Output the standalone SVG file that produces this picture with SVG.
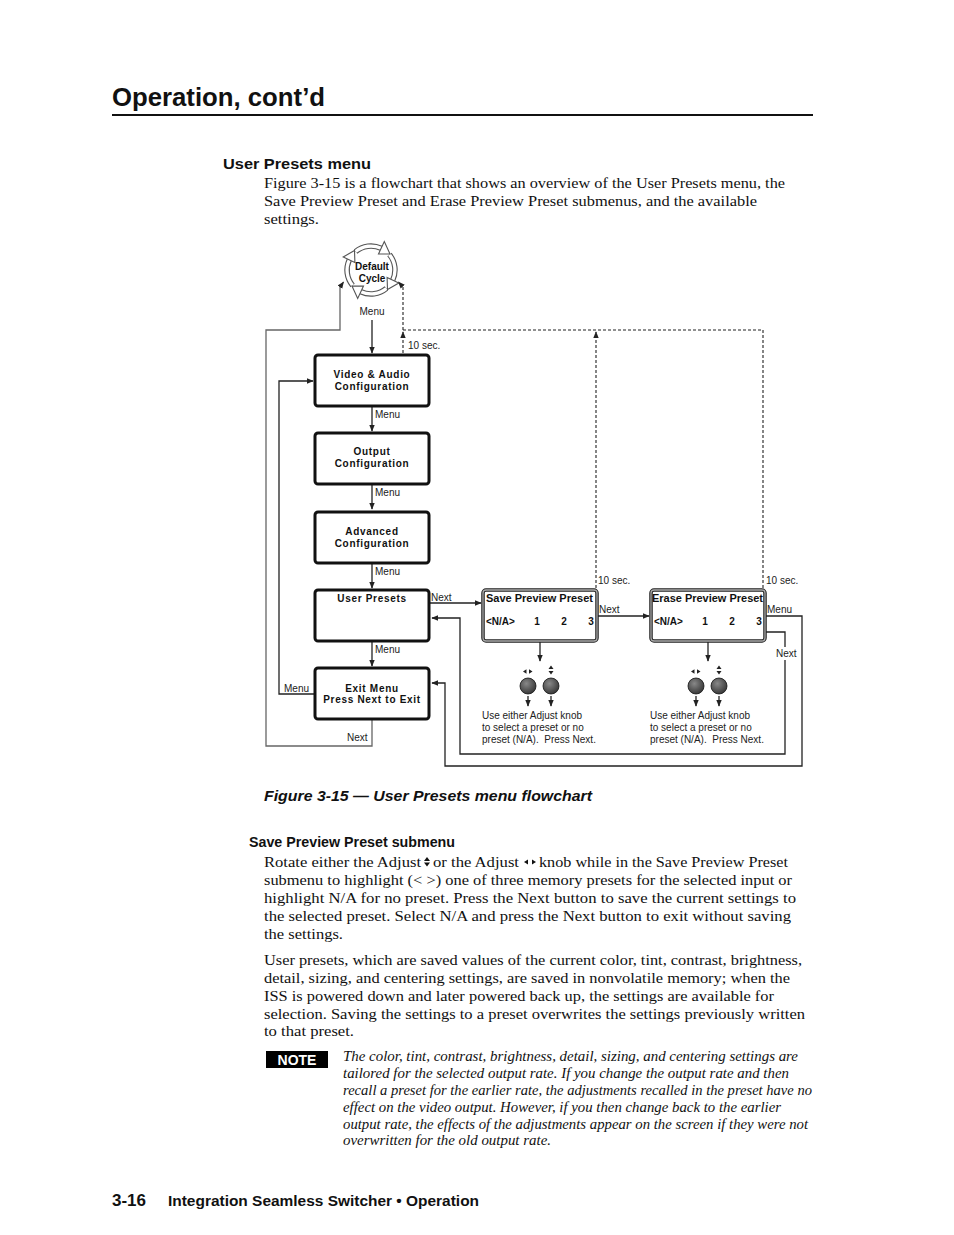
<svg xmlns="http://www.w3.org/2000/svg" width="954" height="1235" viewBox="0 0 954 1235">
<defs>
<style>
.h{font-family:"Liberation Sans",Arial,sans-serif;font-weight:bold;fill:#111}
.b{font-family:"Liberation Serif","Times New Roman",serif;font-size:15.5px;fill:#111}
.n{font-family:"Liberation Serif","Times New Roman",serif;font-style:italic;font-size:14.5px;fill:#111}
.lbl{font-family:"Liberation Sans",Arial,sans-serif;font-size:10px;fill:#222}
.bx{font-family:"Liberation Sans",Arial,sans-serif;font-weight:bold;font-size:10px;fill:#111;text-anchor:middle;letter-spacing:0.7px}
.lcd{font-family:"Liberation Sans",Arial,sans-serif;font-weight:bold;font-size:10px;fill:#111}
.box{fill:#fff;stroke:#111;stroke-width:3}
.ln{fill:none;stroke:#222;stroke-width:1.3}
.ds{fill:none;stroke:#222;stroke-width:1.1;stroke-dasharray:3 2}
.arc{fill:none;stroke:#555;stroke-width:5.5}
.arcw{fill:none;stroke:#fff;stroke-width:3.3}
.ah{fill:#fff;stroke:#555;stroke-width:1.1}
</style>
<marker id="arr" viewBox="0 0 10 10" refX="9" refY="5" markerWidth="7" markerHeight="7" markerUnits="userSpaceOnUse" orient="auto">
<path d="M0,1 L10,5 L0,9 Z" fill="#222"/>
</marker>
<radialGradient id="knob" cx="0.4" cy="0.35" r="0.7">
<stop offset="0" stop-color="#888"/>
<stop offset="1" stop-color="#333"/>
</radialGradient>
</defs>
<rect width="954" height="1235" fill="#fff"/>

<!-- header -->
<text class="h" x="112" y="106" font-size="25" textLength="213" lengthAdjust="spacingAndGlyphs">Operation, cont’d</text>
<rect x="112" y="114" width="701" height="2" fill="#111"/>
<text class="h" x="223" y="169" font-size="15" textLength="148" lengthAdjust="spacingAndGlyphs">User Presets menu</text>
<text class="b" x="264" y="188" textLength="521" lengthAdjust="spacingAndGlyphs">Figure 3-15 is a flowchart that shows an overview of the User Presets menu, the</text>
<text class="b" x="264" y="206" textLength="493" lengthAdjust="spacingAndGlyphs">Save Preview Preset and Erase Preview Preset submenus, and the available</text>
<text class="b" x="264" y="224" textLength="55" lengthAdjust="spacingAndGlyphs">settings.</text>

<!-- default cycle -->
<g id="default-cycle">
<path class="arc" d="M355.6,251.6 A24,24 0 0 1 381.1,248.3"/>
<path class="arc" d="M389.4,254.6 A24,24 0 0 1 392.7,280.1"/>
<path class="arc" d="M386.4,288.4 A24,24 0 0 1 360.9,291.7"/>
<path class="arc" d="M352.6,285.4 A24,24 0 0 1 349.3,259.9"/>
<path class="arcw" d="M355.6,251.6 A24,24 0 0 1 381.1,248.3"/>
<path class="arcw" d="M389.4,254.6 A24,24 0 0 1 392.7,280.1"/>
<path class="arcw" d="M386.4,288.4 A24,24 0 0 1 360.9,291.7"/>
<path class="arcw" d="M352.6,285.4 A24,24 0 0 1 349.3,259.9"/>
<polygon class="ah" points="378.5,253.9 384.3,241.6 390.0,254.0"/>
<polygon class="ah" points="387.1,277.5 398.8,283.0 387.5,289.5"/>
<polygon class="ah" points="363.5,286.1 357.7,298.4 352.0,286.0"/>
<polygon class="ah" points="354.9,262.5 343.2,257.0 354.5,250.5"/>
<text class="lcd" x="372" y="270" font-size="9" text-anchor="middle">Default</text>
<text class="lcd" x="372" y="282" font-size="9" text-anchor="middle">Cycle</text>
</g>

<!-- connectors -->
<g id="connectors">
<line class="ln" x1="372" y1="320" x2="372" y2="353" marker-end="url(#arr)"/>
<text class="lbl" x="372" y="315" text-anchor="middle">Menu</text>
<line class="ln" x1="372" y1="406" x2="372" y2="431" marker-end="url(#arr)"/>
<text class="lbl" x="375" y="418">Menu</text>
<line class="ln" x1="372" y1="485" x2="372" y2="509" marker-end="url(#arr)"/>
<text class="lbl" x="375" y="496">Menu</text>
<line class="ln" x1="372" y1="563" x2="372" y2="588" marker-end="url(#arr)"/>
<text class="lbl" x="375" y="575">Menu</text>
<line class="ln" x1="372" y1="642" x2="372" y2="666" marker-end="url(#arr)"/>
<text class="lbl" x="375" y="653">Menu</text>

<!-- outer Next loop back to default cycle -->
<path fill="none" stroke="#666" stroke-width="1.3" d="M372,720 V746 H266 V330 H340 V287 L343.5,282" marker-end="url(#arr)"/>
<text class="lbl" x="347" y="741">Next</text>

<!-- inner Menu loop exit -> video -->
<path class="ln" d="M314,694 H279 V381 H313" marker-end="url(#arr)"/>
<text class="lbl" x="284" y="692">Menu</text>

<!-- dashed timeouts -->
<line class="ds" x1="403" y1="353" x2="403" y2="332" marker-end="url(#arr)"/>
<path class="ds" d="M403,330 V287 L398.5,282" marker-end="url(#arr)"/>
<line class="ds" x1="596" y1="588" x2="596" y2="332" marker-end="url(#arr)"/>
<path class="ds" d="M763,588 V330 H403"/>
<text class="lbl" x="408" y="349">10 sec.</text>
<text class="lbl" x="598" y="584">10 sec.</text>
<text class="lbl" x="766" y="584">10 sec.</text>

<!-- User Presets -> Save -->
<line class="ln" x1="430" y1="603" x2="481" y2="603" marker-end="url(#arr)"/>
<text class="lbl" x="431" y="601">Next</text>
<!-- Save -> Erase -->
<line class="ln" x1="598" y1="616" x2="649" y2="616" marker-end="url(#arr)"/>
<text class="lbl" x="599" y="613">Next</text>
<!-- Erase Next -> User Presets -->
<path class="ln" d="M766,632 H785 V754 H460 V618 H432" marker-end="url(#arr)"/>
<rect x="775" y="647" width="23" height="13" fill="#fff"/>
<text class="lbl" x="776" y="657">Next</text>
<!-- Erase Menu -> Exit -->
<path class="ln" d="M766,616 H802 V766 H445 V683 H432" marker-end="url(#arr)"/>
<text class="lbl" x="767" y="613">Menu</text>

<!-- knob arrows -->
<line class="ln" x1="540" y1="642" x2="540" y2="661" marker-end="url(#arr)"/>
<line class="ln" x1="708" y1="642" x2="708" y2="661" marker-end="url(#arr)"/>
<line class="ln" x1="528" y1="696" x2="528" y2="706" marker-end="url(#arr)"/>
<line class="ln" x1="551" y1="696" x2="551" y2="706" marker-end="url(#arr)"/>
<line class="ln" x1="696" y1="696" x2="696" y2="706" marker-end="url(#arr)"/>
<line class="ln" x1="719" y1="696" x2="719" y2="706" marker-end="url(#arr)"/>
</g>

<!-- main boxes -->
<g id="video-audio">
<rect class="box" x="315" y="355" width="114" height="51" rx="3"/>
<text class="bx" x="372" y="378">Video &amp; Audio</text>
<text class="bx" x="372" y="390">Configuration</text>
</g>
<g id="output">
<rect class="box" x="315" y="433" width="114" height="51" rx="3"/>
<text class="bx" x="372" y="455">Output</text>
<text class="bx" x="372" y="467">Configuration</text>
</g>
<g id="advanced">
<rect class="box" x="315" y="512" width="114" height="51" rx="3"/>
<text class="bx" x="372" y="535">Advanced</text>
<text class="bx" x="372" y="547">Configuration</text>
</g>
<g id="user-presets">
<rect class="box" x="315" y="590" width="114" height="51" rx="3"/>
<text class="bx" x="372" y="602">User Presets</text>
</g>
<g id="exit-menu">
<rect class="box" x="315" y="668" width="114" height="51" rx="3"/>
<text class="bx" x="372" y="692">Exit Menu</text>
<text class="bx" x="372" y="703">Press Next to Exit</text>
</g>

<!-- Save preview preset -->
<g id="save-preview">
<rect x="483" y="590" width="114" height="51" rx="3" fill="#fff" stroke="#222" stroke-width="3.5"/>
<rect x="483" y="590" width="114" height="51" rx="3" fill="none" stroke="#aaa" stroke-width="1.3"/>
<text class="lcd" x="486" y="602" textLength="107" lengthAdjust="spacingAndGlyphs">Save Preview Preset</text>
<text class="lcd" x="486" y="625">&lt;N/A&gt;</text>
<text class="lcd" x="537" y="625" text-anchor="middle">1</text>
<text class="lcd" x="564" y="625" text-anchor="middle">2</text>
<text class="lcd" x="591" y="625" text-anchor="middle">3</text>
<polygon points="523,671.5 526.5,669.3 526.5,673.7" fill="#222"/>
<polygon points="529,669.3 532.5,671.5 529,673.7" fill="#222"/>
<polygon points="551,665.5 548.5,669 553.5,669" fill="#222"/>
<polygon points="548.5,671 553.5,671 551,674.5" fill="#222"/>
<circle cx="528" cy="686" r="8" fill="url(#knob)" stroke="#111" stroke-width="0.8"/>
<circle cx="551" cy="686" r="8" fill="url(#knob)" stroke="#111" stroke-width="0.8"/>
<text class="lbl" x="482" y="719">Use either Adjust knob</text>
<text class="lbl" x="482" y="731">to select a preset or no</text>
<text class="lbl" x="482" y="743" xml:space="preserve">preset (N/A).  Press Next.</text>
</g>

<!-- Erase preview preset -->
<g id="erase-preview">
<rect x="651" y="590" width="114" height="51" rx="3" fill="#fff" stroke="#222" stroke-width="3.5"/>
<rect x="651" y="590" width="114" height="51" rx="3" fill="none" stroke="#aaa" stroke-width="1.3"/>
<text class="lcd" x="652" y="602" textLength="111" lengthAdjust="spacingAndGlyphs">Erase Preview Preset</text>
<text class="lcd" x="654" y="625">&lt;N/A&gt;</text>
<text class="lcd" x="705" y="625" text-anchor="middle">1</text>
<text class="lcd" x="732" y="625" text-anchor="middle">2</text>
<text class="lcd" x="759" y="625" text-anchor="middle">3</text>
<polygon points="691,671.5 694.5,669.3 694.5,673.7" fill="#222"/>
<polygon points="697,669.3 700.5,671.5 697,673.7" fill="#222"/>
<polygon points="719,665.5 716.5,669 721.5,669" fill="#222"/>
<polygon points="716.5,671 721.5,671 719,674.5" fill="#222"/>
<circle cx="696" cy="686" r="8" fill="url(#knob)" stroke="#111" stroke-width="0.8"/>
<circle cx="719" cy="686" r="8" fill="url(#knob)" stroke="#111" stroke-width="0.8"/>
<text class="lbl" x="650" y="719">Use either Adjust knob</text>
<text class="lbl" x="650" y="731">to select a preset or no</text>
<text class="lbl" x="650" y="743" xml:space="preserve">preset (N/A).  Press Next.</text>
</g>

<!-- caption and text -->
<text class="h" x="264" y="801" font-size="15" font-style="italic" textLength="328" lengthAdjust="spacingAndGlyphs">Figure 3-15 — User Presets menu flowchart</text>
<text class="h" x="249" y="847" font-size="14" textLength="206" lengthAdjust="spacingAndGlyphs">Save Preview Preset submenu</text>

<text class="b" x="264" y="867" textLength="157" lengthAdjust="spacingAndGlyphs">Rotate either the Adjust</text>
<polygon points="427,857 424,861 430,861" fill="#111"/>
<polygon points="424,862.5 430,862.5 427,866.5" fill="#111"/>
<text class="b" x="433" y="867" textLength="86" lengthAdjust="spacingAndGlyphs">or the Adjust</text>
<polygon points="524,862 528,859.5 528,864.5" fill="#111"/>
<polygon points="532,859.5 536,862 532,864.5" fill="#111"/>
<text class="b" x="539" y="867" textLength="249" lengthAdjust="spacingAndGlyphs">knob while in the Save Preview Preset</text>
<text class="b" x="264" y="885" textLength="528" lengthAdjust="spacingAndGlyphs">submenu to highlight (&lt; &gt;) one of three memory presets for the selected input or</text>
<text class="b" x="264" y="903" textLength="532" lengthAdjust="spacingAndGlyphs">highlight N/A for no preset.  Press the Next button to save the current settings to</text>
<text class="b" x="264" y="921" textLength="527" lengthAdjust="spacingAndGlyphs">the selected preset.  Select N/A and press the Next button to exit without saving</text>
<text class="b" x="264" y="939" textLength="79" lengthAdjust="spacingAndGlyphs">the settings.</text>

<text class="b" x="264" y="965" textLength="538" lengthAdjust="spacingAndGlyphs">User presets, which are saved values of the current color, tint, contrast, brightness,</text>
<text class="b" x="264" y="983" textLength="526" lengthAdjust="spacingAndGlyphs">detail, sizing, and centering settings, are saved in nonvolatile memory; when the</text>
<text class="b" x="264" y="1001" textLength="510" lengthAdjust="spacingAndGlyphs">ISS is powered down and later powered back up, the settings are available for</text>
<text class="b" x="264" y="1019" textLength="541" lengthAdjust="spacingAndGlyphs">selection.  Saving the settings to a preset overwrites the settings previously written</text>
<text class="b" x="264" y="1036" textLength="90" lengthAdjust="spacingAndGlyphs">to that preset.</text>

<rect x="266" y="1051" width="62" height="17" fill="#000"/>
<text class="h" x="297" y="1065" font-size="14" style="fill:#fff" text-anchor="middle">NOTE</text>
<text class="n" x="343" y="1061" textLength="455" lengthAdjust="spacingAndGlyphs">The color, tint, contrast, brightness, detail, sizing, and centering settings are</text>
<text class="n" x="343" y="1078" textLength="446" lengthAdjust="spacingAndGlyphs">tailored for the selected output rate.  If you change the output rate and then</text>
<text class="n" x="343" y="1095" textLength="469" lengthAdjust="spacingAndGlyphs">recall a preset for the earlier rate, the adjustments recalled in the preset have no</text>
<text class="n" x="343" y="1112" textLength="438" lengthAdjust="spacingAndGlyphs">effect on the video output.  However, if you then change back to the earlier</text>
<text class="n" x="343" y="1129" textLength="465" lengthAdjust="spacingAndGlyphs">output rate, the effects of the adjustments appear on the screen if they were not</text>
<text class="n" x="343" y="1145" textLength="208" lengthAdjust="spacingAndGlyphs">overwritten for the old output rate.</text>

<text class="h" x="112" y="1206" font-size="16" textLength="34" lengthAdjust="spacingAndGlyphs">3-16</text>
<text class="h" x="168" y="1206" font-size="15" textLength="311" lengthAdjust="spacingAndGlyphs">Integration Seamless Switcher • Operation</text>
</svg>
